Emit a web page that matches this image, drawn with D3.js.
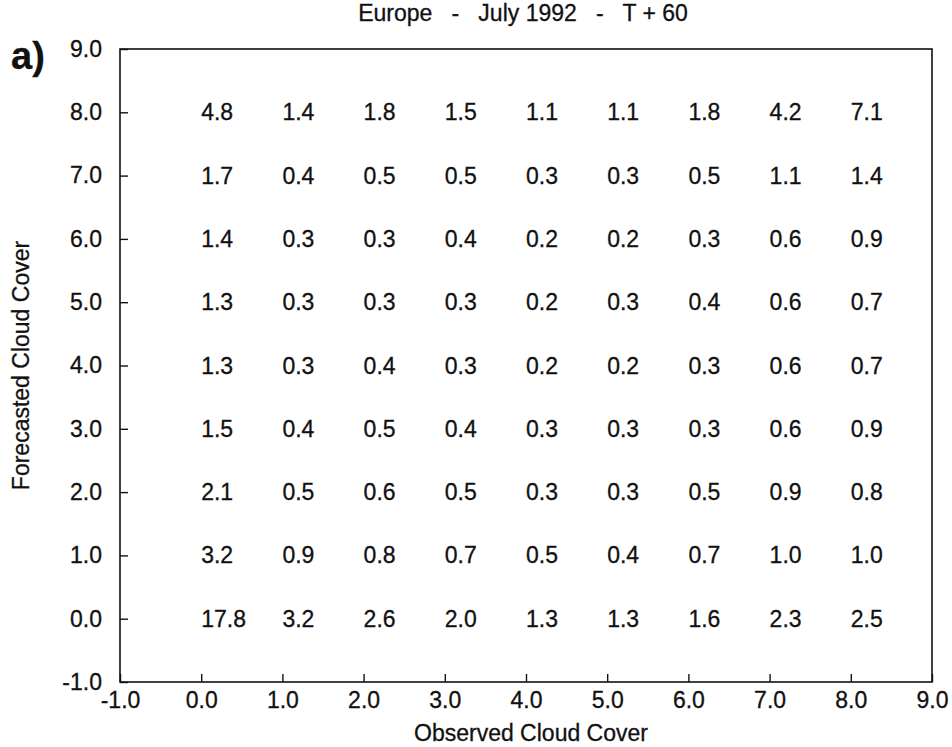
<!DOCTYPE html>
<html>
<head>
<meta charset="utf-8">
<script src="https://cdn.jsdelivr.net/npm/d3@7"></script>
<style>
  html, body { margin: 0; padding: 0; background: #fff; }
  svg { display: block; }
  text { font-family: "Liberation Sans", Arial, Helvetica, sans-serif; fill: #111; stroke: #111; stroke-width: 0.3px; }
</style>
</head>
<body>
<svg id="chart" width="952" height="747"></svg>
<script>
// ---- data ----
const titleText = "Europe   -   July 1992   -   T + 60";
const panelLabel = "a)";
const xAxisTitle = "Observed Cloud Cover";
const yAxisTitle = "Forecasted Cloud Cover";
const xTicks = [-1, 0, 1, 2, 3, 4, 5, 6, 7, 8, 9];
const yTicks = [-1, 0, 1, 2, 3, 4, 5, 6, 7, 8, 9];
const observed = [0, 1, 2, 3, 4, 5, 6, 7, 8];
// one array per forecast class (values across observed 0..8)
const forecast8 = [4.8, 1.4, 1.8, 1.5, 1.1, 1.1, 1.8, 4.2, 7.1];
const forecast7 = [1.7, 0.4, 0.5, 0.5, 0.3, 0.3, 0.5, 1.1, 1.4];
const forecast6 = [1.4, 0.3, 0.3, 0.4, 0.2, 0.2, 0.3, 0.6, 0.9];
const forecast5 = [1.3, 0.3, 0.3, 0.3, 0.2, 0.3, 0.4, 0.6, 0.7];
const forecast4 = [1.3, 0.3, 0.4, 0.3, 0.2, 0.2, 0.3, 0.6, 0.7];
const forecast3 = [1.5, 0.4, 0.5, 0.4, 0.3, 0.3, 0.3, 0.6, 0.9];
const forecast2 = [2.1, 0.5, 0.6, 0.5, 0.3, 0.3, 0.5, 0.9, 0.8];
const forecast1 = [3.2, 0.9, 0.8, 0.7, 0.5, 0.4, 0.7, 1.0, 1.0];
const forecast0 = [17.8, 3.2, 2.6, 2.0, 1.3, 1.3, 1.6, 2.3, 2.5];
const forecastRows = [
  { f: 0, values: forecast0 }, { f: 1, values: forecast1 }, { f: 2, values: forecast2 },
  { f: 3, values: forecast3 }, { f: 4, values: forecast4 }, { f: 5, values: forecast5 },
  { f: 6, values: forecast6 }, { f: 7, values: forecast7 }, { f: 8, values: forecast8 }
];

// ---- layout ----
const svg = d3.select("#chart");
const mLeft = 120, mRight = 932, mTop = 49, mBottom = 682;
const fontSize = 23;

const x = d3.scaleLinear().domain([-1, 9]).range([mLeft, mRight]);
const y = d3.scaleLinear().domain([-1, 9]).range([mBottom, mTop]);
const fmt = d => d.toFixed(1);

// axes (inward ticks)
const xAxis = d3.axisBottom(x).tickValues(xTicks).tickFormat(fmt)
  .tickSizeInner(-8).tickSizeOuter(0).tickPadding(10);
const yAxis = d3.axisLeft(y).tickValues(yTicks).tickFormat(fmt)
  .tickSizeInner(-8).tickSizeOuter(0).tickPadding(18);

const gx = svg.append("g").attr("transform", `translate(0,${mBottom})`).call(xAxis);
const gy = svg.append("g").attr("transform", `translate(${mLeft},0)`).call(yAxis);
[gx, gy].forEach(g => {
  g.select(".domain").remove();
  g.selectAll(".tick line").attr("stroke", "#111").attr("stroke-width", 1.4);
  g.selectAll(".tick text").attr("font-size", fontSize)
    .attr("font-family", "Liberation Sans, Arial, Helvetica, sans-serif")
    .attr("fill", "#111").attr("stroke", "#111").attr("stroke-width", 0.3);
});

// frame
svg.append("rect")
  .attr("x", x(-1)).attr("y", y(9))
  .attr("width", x(9) - x(-1)).attr("height", y(-1) - y(9))
  .attr("fill", "none").attr("stroke", "#111").attr("stroke-width", 1.6);

// cell values
const cells = [];
forecastRows.forEach(r => r.values.forEach((v, i) => cells.push({ o: observed[i], f: r.f, v })));
svg.append("g").selectAll("text").data(cells).join("text")
  .attr("x", d => x(d.o))
  .attr("y", d => y(d.f))
  .attr("dy", "0.35em")
  .attr("text-anchor", "start")
  .attr("font-size", fontSize)
  .text(d => d.v.toFixed(1));

// title
svg.append("text")
  .attr("x", 523).attr("y", 21)
  .attr("text-anchor", "middle")
  .attr("font-size", fontSize)
  .style("white-space", "pre")
  .text(titleText);

// panel label
svg.append("text")
  .attr("x", 11).attr("y", 69)
  .attr("font-size", 38).attr("font-weight", "bold")
  .text(panelLabel);

// x axis title
svg.append("text")
  .attr("x", 531).attr("y", 741)
  .attr("text-anchor", "middle")
  .attr("font-size", fontSize)
  .text(xAxisTitle);

// y axis title
svg.append("text")
  .attr("transform", `translate(28.5,${(mTop + mBottom) / 2}) rotate(-90)`)
  .attr("text-anchor", "middle")
  .attr("font-size", fontSize)
  .text(yAxisTitle);
</script>
</body>
</html>
